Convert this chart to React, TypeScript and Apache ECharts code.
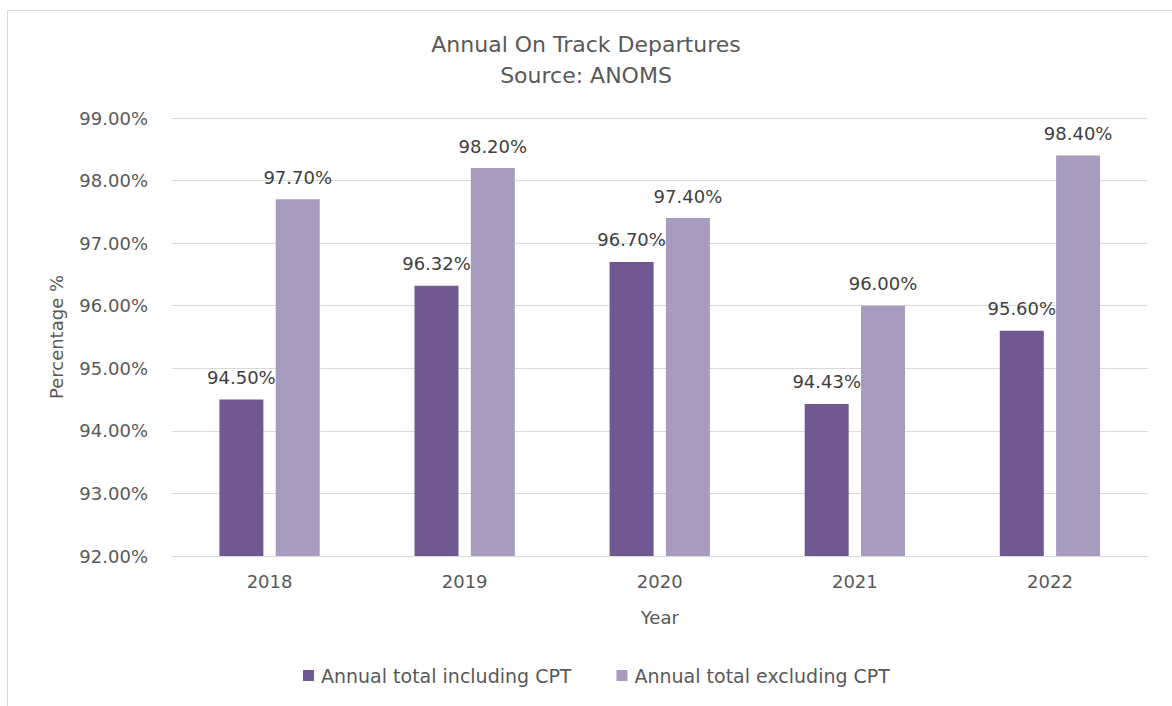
import React, { useEffect, useRef } from "react";
import * as echarts from "echarts";

const years = ["2018", "2019", "2020", "2021", "2022"];
const includingCPT = [94.5, 96.32, 96.7, 94.43, 95.6];
const excludingCPT = [97.7, 98.2, 97.4, 96.0, 98.4];
const seriesNames = ["Annual total including CPT", "Annual total excluding CPT"];
const yMin = 92;
const yMax = 99;
const yStep = 1;

const FONT = "DejaVu Sans";
const TEXT = "#595959";

export default function App() {
  const ref = useRef<HTMLDivElement>(null);
  useEffect(() => {
    if (!ref.current) return;
    const chart = echarts.init(ref.current, undefined, { renderer: "svg" });
    const labelCfg = {
      show: true,
      position: "top",
      distance: 13,
      color: "#404040",
      fontFamily: FONT,
      fontSize: 18,
      formatter: (p: any) => Number(p.value).toFixed(2) + "%",
    };
    chart.setOption({
      animation: false,
      backgroundColor: "#ffffff",
      textStyle: { fontFamily: FONT },
      graphic: [
        {
          type: "rect",
          shape: { x: 7.5, y: 10.5, width: 1200, height: 720 },
          style: { fill: "none", stroke: "#d9d9d9", lineWidth: 1 },
          silent: true,
        },
      ],
      title: {
        text: "Annual On Track Departures\nSource: ANOMS",
        left: "center",
        top: 24,
        textStyle: {
          fontFamily: FONT,
          fontSize: 22,
          fontWeight: "normal",
          color: TEXT,
          lineHeight: 31,
        },
      },
      legend: {
        bottom: 16,
        left: 298,
        icon: "rect",
        itemWidth: 11,
        itemHeight: 11,
        itemGap: 45,
        textStyle: { fontFamily: FONT, fontSize: 19, color: TEXT, padding: [0, 0, 0, 2] },
        data: seriesNames,
      },
      grid: { left: 172, right: 24.5, top: 118, bottom: 150, containLabel: false },
      xAxis: {
        type: "category",
        data: years,
        name: "Year",
        nameLocation: "middle",
        nameGap: 52,
        nameTextStyle: { fontFamily: FONT, fontSize: 18, color: TEXT },
        axisLine: { show: true, lineStyle: { color: "#d9d9d9", width: 1 } },
        axisTick: { show: false },
        axisLabel: { fontFamily: FONT, fontSize: 18, color: TEXT, margin: 16 },
      },
      yAxis: {
        type: "value",
        min: yMin,
        max: yMax,
        interval: yStep,
        name: "Percentage %",
        nameLocation: "middle",
        nameGap: 107,
        nameRotate: 90,
        nameTextStyle: { fontFamily: FONT, fontSize: 18, color: TEXT },
        axisLine: { show: false },
        axisTick: { show: false },
        splitLine: { lineStyle: { color: "#d9d9d9", width: 1 } },
        axisLabel: {
          fontFamily: FONT,
          fontSize: 18,
          color: TEXT,
          margin: 24,
          formatter: (v: number) => v.toFixed(2) + "%",
        },
      },
      series: [
        {
          name: seriesNames[0],
          type: "bar",
          data: includingCPT,
          barWidth: 44,
          barGap: "28%",
          itemStyle: { color: "#705891" },
          label: labelCfg,
        },
        {
          name: seriesNames[1],
          type: "bar",
          data: excludingCPT,
          barWidth: 44,
          barGap: "28%",
          itemStyle: { color: "#a79bbf" },
          label: labelCfg,
        },
      ],
    });
    return () => chart.dispose();
  }, []);
  return (
    <div
      ref={ref}
      style={{ position: "fixed", left: 0, top: 0, width: 1172, height: 706, background: "#fff" }}
    />
  );
}
